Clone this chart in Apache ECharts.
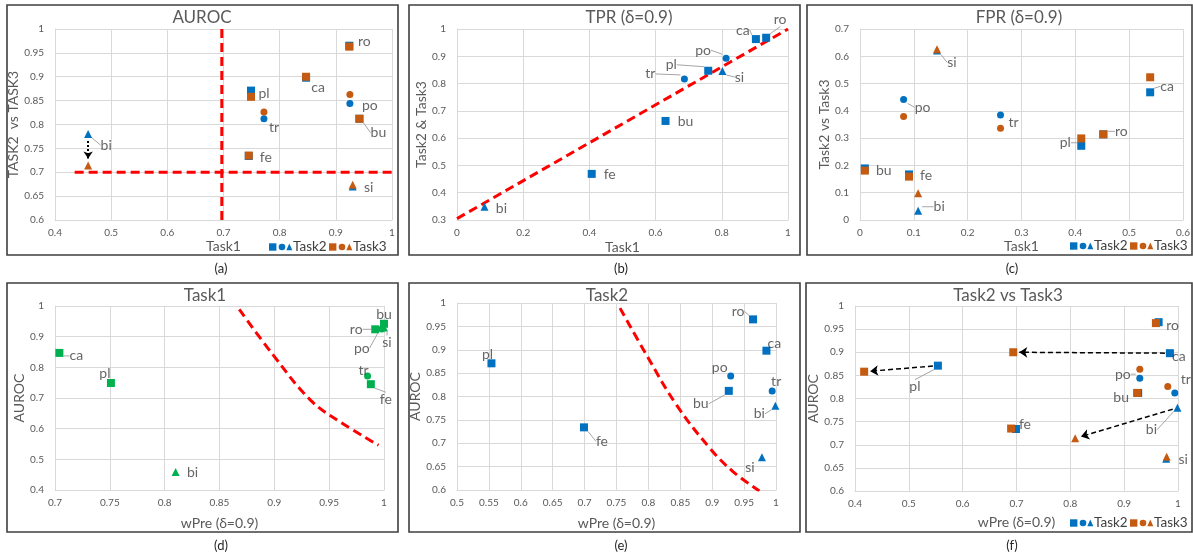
<!DOCTYPE html>
<html><head><meta charset="utf-8">
<script src="https://cdn.jsdelivr.net/npm/echarts@6/dist/echarts.min.js"></script>
<style>html,body{margin:0;padding:0;background:#fff}#c{width:1193px;height:556px}</style>
</head><body><div id="c"></div>
<script>
// ---------- data ----------
const names  = ['ro','ca','pl','po','tr','bu','fe','si','bi'];
const shapes = ['rect','rect','rect','circle','circle','rect','rect','triangle','triangle'];

const aurocTask1 = [0.924, 0.847, 0.749, 0.925, 0.772, 0.942, 0.745, 0.930, 0.459];
const aurocTask2 = [0.965, 0.898, 0.871, 0.844, 0.812, 0.812, 0.734, 0.670, 0.780];
const aurocTask3 = [0.963, 0.900, 0.858, 0.863, 0.826, 0.812, 0.735, 0.674, 0.714];
const wPreTask1  = [0.992, 0.704, 0.751, 0.998, 0.985, 1.000, 0.988, 1.000, 0.810];
const wPreTask2  = [0.964, 0.985, 0.554, 0.929, 0.994, 0.926, 0.699, 0.978, 0.999];
const wPreTask3  = [0.959, 0.694, 0.417, 0.929, 0.981, 0.924, 0.690, 0.979, 0.809];
const tprTask1   = [0.934, 0.903, 0.759, 0.813, 0.687, 0.630, 0.407, 0.802, 0.083];
const tprTask23  = [0.968, 0.963, 0.847, 0.893, 0.817, 0.663, 0.469, 0.846, 0.349];
const fprTask1   = [0.452, 0.539, 0.411, 0.081, 0.261, 0.009, 0.091, 0.143, 0.108];
const fprTask2   = [0.314, 0.468, 0.272, 0.442, 0.385, 0.189, 0.167, 0.621, 0.034];
const fprTask3   = [0.314, 0.523, 0.299, 0.379, 0.336, 0.181, 0.159, 0.626, 0.098];

// reference lines / curves
const aurocThreshX = 0.697, aurocThreshY = 0.7;
const threshHLineX = [0.435, 1.01];
const tprLine  = [[0, 0.305], [1, 1.0]];
const curveDx = [0.868, 0.899, 0.933, 0.960, 0.995];
const curveDy = [0.989, 0.840, 0.693, 0.622, 0.546];
const curveEx = [0.7555, 0.797, 0.844, 0.8966, 0.933, 0.974];
const curveEy = [0.989, 0.889, 0.782, 0.689, 0.639, 0.598];
const arrowNamesF = ['pl','ca','bi'];

// axis ticks: [min, max, interval]
const ticksX = [[0.4,1,0.1],[0,1,0.2],[0,0.6,0.1],[0.7,1,0.05],[0.5,1,0.05],[0.4,1,0.1]];
const ticksY = [[0.6,1,0.05],[0.3,1,0.1],[0,0.7,0.1],[0.4,1,0.1],[0.6,1,0.05],[0.6,1,0.05]];

const titles   = ['AUROC','TPR (δ=0.9)','FPR (δ=0.9)','Task1','Task2','Task2 vs Task3'];
const xNames   = ['Task1','Task1','Task1','wPre (δ=0.9)','wPre (δ=0.9)','wPre (δ=0.9)'];
const yNames   = ['TASK2  vs TASK3','Task2 & Task3','Task2 vs Task3','AUROC','AUROC','AUROC'];
const captions = ['(a)','(b)','(c)','(d)','(e)','(f)'];
const legendNames = ['Task2','Task3'];

// ---------- layout / style ----------
const FONT = 'Lato, "Open Sans", sans-serif';
const BLUE = '#0070C0', ORANGE = '#C55A11', GREEN = '#00B050', RED = '#FF0000';
const GRID = [
  {left:55,  top:29,  width:337, height:191},
  {left:457, top:29,  width:331, height:191},
  {left:860, top:29,  width:323, height:191},
  {left:55,  top:306, width:329, height:184},
  {left:457, top:303, width:319, height:187},
  {left:855, top:306, width:323, height:185}
];
const xGap = [19,20,19,26,26,24];
const yGap = [31,26,26,28,29,31];
const frames = [[7,5,391,250],[409,5,391,250],[807,5,385,250],[7,283,391,249],[409,283,391,249],[806,283,386,249]];
const titlePos = [[202,18],[629,18],[1019,18],[205,296],[607,296],[1008,296]];
const capPos = [[221,269],[621,269],[1012,269],[221,546],[621,546],[1012,546]];
const legendPos = [[269,247],[1070,246],[1070,523]];

const labelOffs = [
  {ro:[15,-4], ca:[12,10], pl:[13,3], po:[20,2], tr:[10,9], bu:[19,14], fe:[17,1], si:[16,1], bi:[18,11]},
  {bi:[17,2], fe:[18,1], bu:[20,1], tr:[-34,-5], pl:[-37,-6], si:[17,6], po:[-23,-8], ca:[-13,-9], ro:[14,-18]},
  {bu:[19,2], fe:[17,1], bi:[21,-4], si:[15,12], po:[19,8], tr:[13,8], pl:[-16,-3], ro:[18,-3], ca:[17,-6]},
  {ca:[17,3], pl:[-6,-9], bi:[17,1], tr:[-4,-5], fe:[15,15], ro:[-19,0], bu:[0,-9], po:[-20,19], si:[3,15]},
  {pl:[-4,-9], fe:[18,14], ro:[-15,-8], ca:[8,-7], po:[-11,-8], bu:[-28,13], tr:[4,-9], bi:[-16,8], si:[-12,10]},
  {ro:[14,3], ca:[9,3], pl:[-23,21], po:[-17,-4], tr:[11,-13], bu:[-17,5], fe:[9,-5], bi:[-26,22], si:[17,1]}
];
const leaders = [['bu','bi'],['tr','pl','si','po','ca','ro'],['bi','si','po','ro','ca','pl'],
                 ['ca','fe','ro','po','si'],['fe','ro','bu','bi'],['pl','bi','po']];
const symSize = {rect:8, circle:7, triangle:8};

// ---------- helpers ----------
function markerSeries(gi, xs, ys, color, z) {
  return ['rect','circle','triangle'].map(sh => ({
    type:'scatter', xAxisIndex:gi, yAxisIndex:gi, z, silent:true,
    symbol:sh, symbolSize:symSize[sh], itemStyle:{color, opacity:1},
    data: names.map((n,i)=>({n,i})).filter(o=>shapes[o.i]===sh).map(o=>({name:o.n, value:[xs[o.i], ys[o.i]]}))
  }));
}
function labelSeries(gi, xs, ys) {
  const offs = labelOffs[gi], leads = leaders[gi];
  return {
    type:'scatter', xAxisIndex:gi, yAxisIndex:gi, z:8, silent:true,
    symbol:'rect', symbolSize:8, itemStyle:{color:'rgba(0,0,0,0)'},
    data: names.map((n,i)=>({name:n, value:[xs[i], ys[i]], labelLine:{show: leads.includes(n)}})),
    label:{show:true, position:'inside', formatter:'{b}', color:'#404040', fontSize:14, fontFamily:FONT},
    labelLine:{show:false, lineStyle:{color:'#a6a6a6', width:1}},
    labelLayout: p => { const o = offs[names[p.dataIndex]]; return {dx:o[0], dy:o[1]}; }
  };
}
function redLine(gi, data, smooth, clip) {
  return {type:'line', xAxisIndex:gi, yAxisIndex:gi, z:1, silent:true, showSymbol:false, symbol:'none',
    smooth: smooth ? 0.4 : false, clip: clip !== false, data,
    lineStyle:{color:RED, width:3, type:[9,5]}};
}
function shorten(gi, p, q, g1, g2) {
  const sx = GRID[gi].width/(ticksX[gi][1]-ticksX[gi][0]);
  const sy = GRID[gi].height/(ticksY[gi][1]-ticksY[gi][0]);
  const dx = (q[0]-p[0])*sx, dy = (q[1]-p[1])*sy, L = Math.hypot(dx,dy);
  return [[p[0]+dx/L*g1/sx, p[1]+dy/L*g1/sy], [q[0]-dx/L*g2/sx, q[1]-dy/L*g2/sy]];
}
function axis(gi, isX) {
  const t = isX ? ticksX[gi] : ticksY[gi];
  return {
    gridIndex:gi, type:'value', min:t[0], max:t[1], interval:t[2],
    name: isX ? xNames[gi] : yNames[gi], nameLocation:'middle', nameGap: isX ? xGap[gi] : yGap[gi],
    nameTextStyle:{fontSize:14, color:'#595959', fontFamily:FONT},
    axisLine:{show:true, onZero:false, lineStyle:{color:'#d9d9d9', width:1}},
    axisTick:{show:false},
    axisLabel:{fontSize:10, color:'#595959', fontFamily:FONT, margin: isX ? 8 : 11},
    splitLine:{show:true, lineStyle:{color:'#d9d9d9', width:1}}
  };
}
function txt(x, y, text, size, color, align) {
  return {type:'text', x, y, z:100, silent:true, style:{text, font: size+'px '+FONT, fill:color,
    align:align||'center', verticalAlign:'middle', textAlign:align||'center', textVerticalAlign:'middle'}};
}
function legend(x0, yc) {
  const out = [];
  [[0, BLUE, legendNames[0]], [60, ORANGE, legendNames[1]]].forEach(([k, c, name]) => {
    const x = x0 + k;
    out.push({type:'rect', z:100, silent:true, shape:{x:x, y:yc-3.7, width:7.4, height:7.4}, style:{fill:c}});
    out.push({type:'circle', z:100, silent:true, shape:{cx:x+13, cy:yc, r:3.3}, style:{fill:c}});
    out.push({type:'polygon', z:100, silent:true, shape:{points:[[x+17.3,yc+3.2],[x+23.3,yc+3.2],[x+20.3,yc-3.6]]}, style:{fill:c}});
    out.push(txt(x+24, yc, name, 13.5, '#404040', 'left'));
  });
  return out;
}

// ---------- series ----------
const series = [];
// (a)
series.push(redLine(0, [[aurocThreshX, ticksY[0][0]],[aurocThreshX, ticksY[0][1]]]));
series.push(redLine(0, [[threshHLineX[0], aurocThreshY],[threshHLineX[1], aurocThreshY]], false, false));
series.push(...markerSeries(0, aurocTask1, aurocTask2, BLUE, 3));
series.push(...markerSeries(0, aurocTask1, aurocTask3, ORANGE, 4));
const bi = names.indexOf('bi');
series.push({type:'lines', coordinateSystem:'cartesian2d', xAxisIndex:0, yAxisIndex:0, z:5, silent:true,
  symbol:['none','arrow'], symbolSize:7,
  lineStyle:{color:'#000', width:2, type:[2,2], opacity:1},
  data:[{coords: shorten(0, [aurocTask1[bi], aurocTask2[bi]], [aurocTask1[bi], aurocTask3[bi]], 7, 7)}]});
series.push(labelSeries(0, aurocTask1, aurocTask2));
// (b)
series.push(redLine(1, tprLine));
series.push(...markerSeries(1, tprTask1, tprTask23, BLUE, 3));
series.push(labelSeries(1, tprTask1, tprTask23));
// (c)
series.push(...markerSeries(2, fprTask1, fprTask2, BLUE, 3));
series.push(...markerSeries(2, fprTask1, fprTask3, ORANGE, 4));
series.push(labelSeries(2, fprTask1, fprTask2));
// (d)
series.push(redLine(3, curveDx.map((x,i)=>[x, curveDy[i]]), true));
series.push(...markerSeries(3, wPreTask1, aurocTask1, GREEN, 3));
series.push(labelSeries(3, wPreTask1, aurocTask1));
// (e)
series.push(redLine(4, curveEx.map((x,i)=>[x, curveEy[i]]), true));
series.push(...markerSeries(4, wPreTask2, aurocTask2, BLUE, 3));
series.push(labelSeries(4, wPreTask2, aurocTask2));
// (f)
series.push(...markerSeries(5, wPreTask2, aurocTask2, BLUE, 3));
series.push(...markerSeries(5, wPreTask3, aurocTask3, ORANGE, 4));
series.push({type:'lines', coordinateSystem:'cartesian2d', xAxisIndex:5, yAxisIndex:5, z:5, silent:true,
  symbol:['none','arrow'], symbolSize:8,
  lineStyle:{color:'#000', width:1.5, type:[5,3], opacity:1},
  data: arrowNamesF.map(n => { const i = names.indexOf(n);
    return {coords: shorten(5, [wPreTask2[i], aurocTask2[i]], [wPreTask3[i], aurocTask3[i]], 5, 6)}; })});
series.push(labelSeries(5, wPreTask2, aurocTask2));

// ---------- graphics ----------
const graphic = [];
frames.forEach(f => graphic.push({type:'rect', z:50, silent:true, shape:{x:f[0], y:f[1], width:f[2], height:f[3]},
  style:{fill:'none', stroke:'#3f3f3f', lineWidth:1.6}}));
titles.forEach((t,i) => graphic.push(txt(titlePos[i][0], titlePos[i][1], t, 17, '#595959')));
captions.forEach((t,i) => graphic.push(txt(capPos[i][0], capPos[i][1], t, 13, '#262626')));
legendPos.forEach(p => graphic.push(...legend(p[0], p[1])));

const chart = echarts.init(document.getElementById('c'), null, {renderer:'canvas'});
chart.setOption({
  animation:false,
  backgroundColor:'#fff',
  textStyle:{fontFamily:FONT},
  grid: GRID,
  xAxis: GRID.map((g,i)=>axis(i,true)),
  yAxis: GRID.map((g,i)=>axis(i,false)),
  series,
  graphic
});
</script>
</body></html>
